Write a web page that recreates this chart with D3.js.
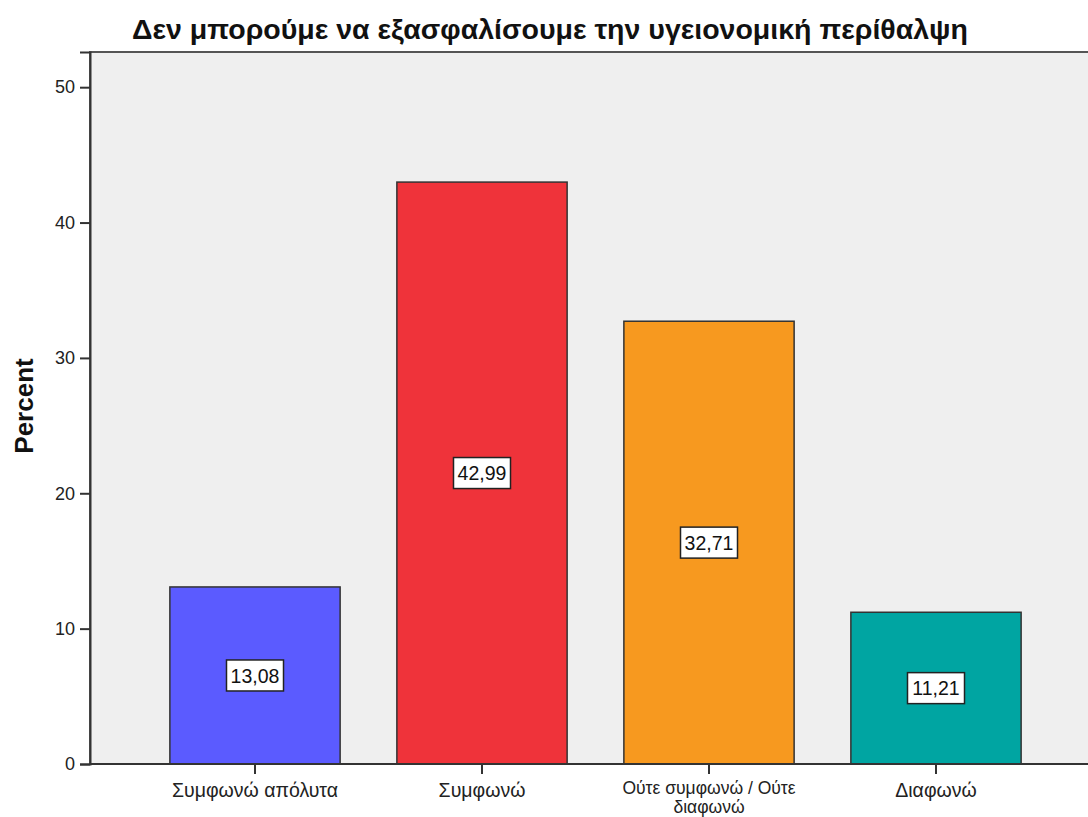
<!DOCTYPE html>
<html><head><meta charset="utf-8">
<script src="https://cdn.jsdelivr.net/npm/d3@7"></script>
<style>body{margin:0;background:#fff;} text{font-family:"Liberation Sans",Arial,sans-serif;}</style>
</head><body>
<svg id="c" width="1088" height="817"></svg>
<script>
const categories = ["Συμφωνώ απόλυτα", "Συμφωνώ", "Ούτε συμφωνώ / Ούτε διαφωνώ", "Διαφωνώ"];
const values = [13.08, 42.99, 32.71, 11.21];
const valueLabels = ["13,08", "42,99", "32,71", "11,21"];
const colors = ["#5B5BFF", "#EF333A", "#F7991F", "#00A5A2"];
const yTicks = [0, 10, 20, 30, 40, 50];
const title = "Δεν μπορούμε να εξασφαλίσουμε την υγειονομική περίθαλψη";

const svg = d3.select("#c");
const pL = 90, pT = 52, pR = 1100, pB = 764;

const y = d3.scaleLinear().domain([0, 52.6]).range([pB, pT]);
const x = d3.scaleBand().domain(categories).range([141.5, 1049.5]).paddingInner(0.25).paddingOuter(0.125);

svg.append("rect").attr("x", pL).attr("y", pT).attr("width", pR-pL).attr("height", pB-pT)
  .attr("fill", "#EFEFEF").attr("stroke", "#555").attr("stroke-width", 2);

svg.append("g").selectAll("rect").data(values).join("rect")
  .attr("x", (d,i) => x(categories[i]))
  .attr("y", d => y(d))
  .attr("width", x.bandwidth())
  .attr("height", d => pB - y(d))
  .attr("fill", (d,i) => colors[i])
  .attr("stroke", "#333").attr("stroke-width", 1.5);

// value labels
const lg = svg.append("g").selectAll("g").data(values).join("g")
  .attr("transform", (d,i) => `translate(${x(categories[i]) + x.bandwidth()/2},${y(d/2)})`);
lg.append("rect").attr("x", -28.5).attr("y", -15.5).attr("width", 57).attr("height", 31)
  .attr("fill", "#fff").attr("stroke", "#222").attr("stroke-width", 1.5);
lg.append("text").attr("text-anchor", "middle").attr("dy", "0.36em").attr("font-size", 19.5)
  .attr("fill", "#111").text((d,i) => valueLabels[i]);

// y axis
const ya = svg.append("g").attr("transform", `translate(${pL},0)`)
  .call(d3.axisLeft(y).tickValues(yTicks).tickSize(10).tickPadding(5).tickFormat(d3.format("d")));
ya.select(".domain").attr("stroke", "#333").attr("stroke-width", 2);
ya.selectAll(".tick line").attr("stroke", "#333").attr("stroke-width", 2);
ya.selectAll(".tick text").attr("font-size", 18).attr("fill", "#222").attr("font-family", "Liberation Sans, Arial, sans-serif");

// x axis
const xa = svg.append("g").attr("transform", `translate(0,${pB})`)
  .call(d3.axisBottom(x).tickSize(10).tickSizeOuter(0).tickPadding(9));
xa.select(".domain").attr("stroke", "#333").attr("stroke-width", 2).attr("d", `M${pL},0H${pR}`);
xa.selectAll(".tick line").attr("stroke", "#333").attr("stroke-width", 2);
xa.selectAll(".tick text").attr("font-size", 19.5).attr("fill", "#222").attr("font-family", "Liberation Sans, Arial, sans-serif")
  .each(function(d) {
    const t = d3.select(this);
    if (d === "Ούτε συμφωνώ / Ούτε διαφωνώ") {
      t.text(null).attr("font-size", 17.5);
      t.append("tspan").attr("x", 0).attr("dy", "0.6em").text("Ούτε συμφωνώ / Ούτε");
      t.append("tspan").attr("x", 0).attr("dy", "1.1em").text("διαφωνώ");
    }
  });

svg.append("text").attr("x", 550).attr("y", 39).attr("text-anchor", "middle")
  .attr("font-size", 28.5).attr("font-weight", "bold").attr("fill", "#111").text(title);

svg.append("text").attr("transform", `translate(33,406) rotate(-90)`).attr("text-anchor", "middle")
  .attr("font-size", 26).attr("font-weight", "bold").attr("fill", "#111").text("Percent");
</script>
</body></html>
